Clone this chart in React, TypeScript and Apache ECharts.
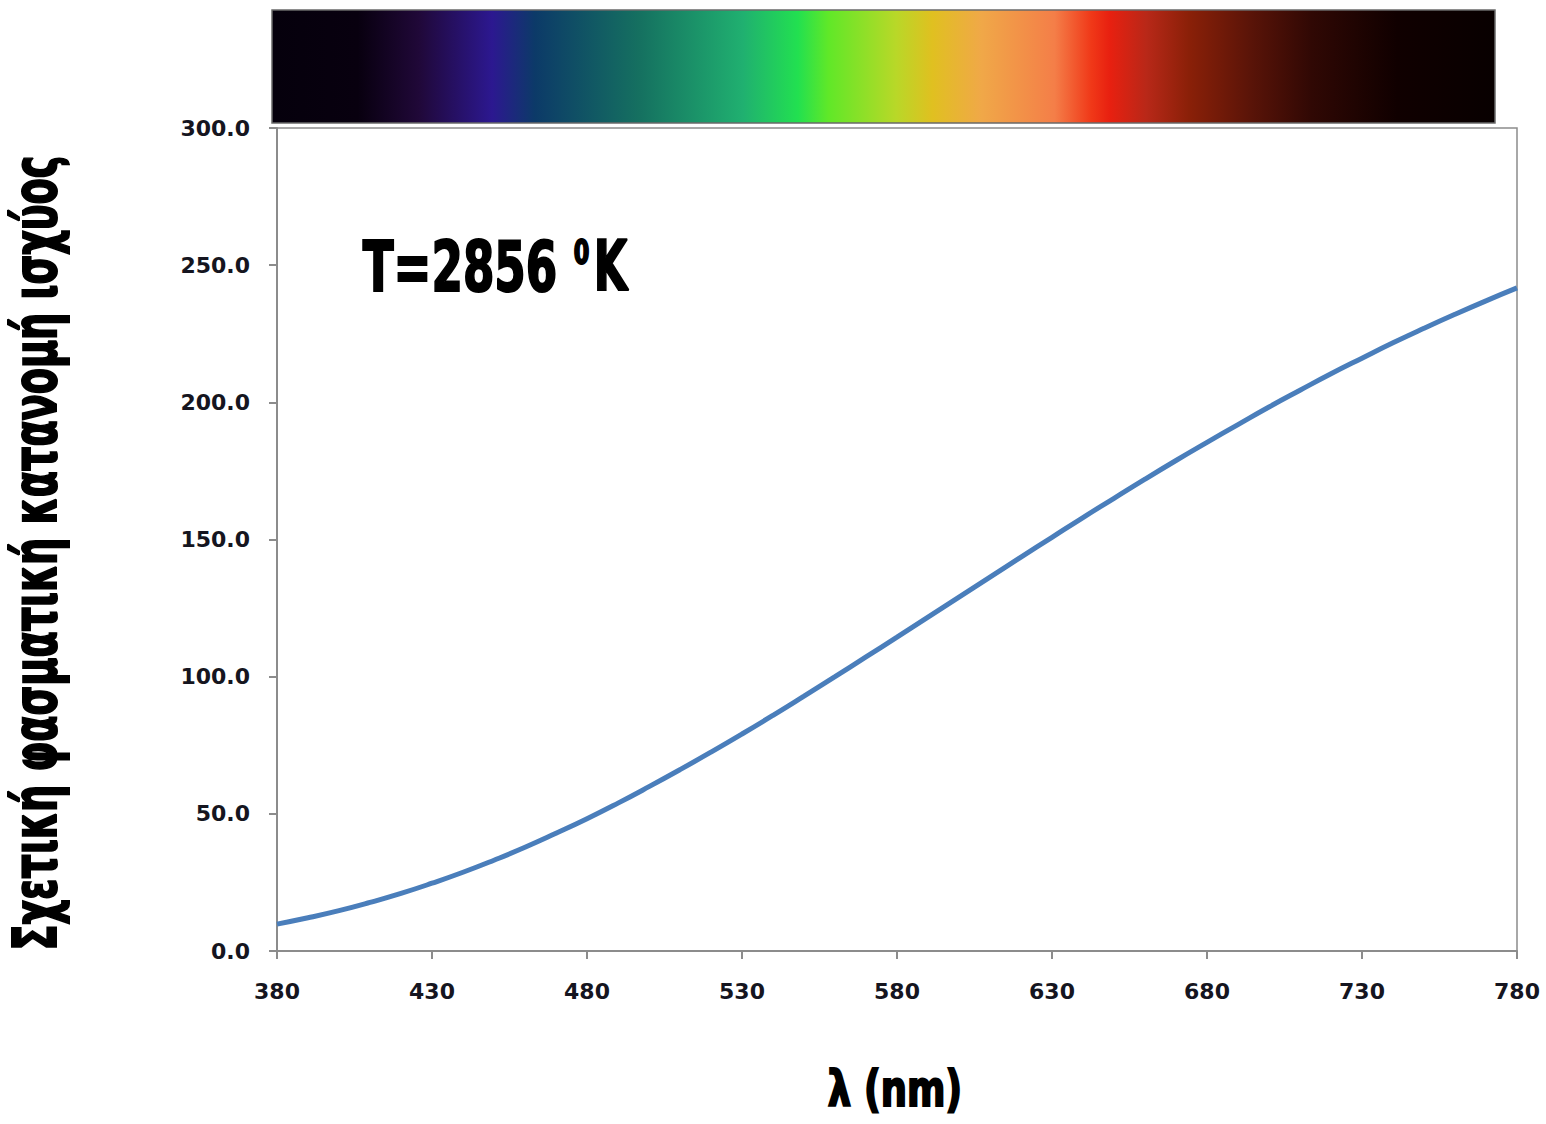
import React, { useEffect, useRef } from "react";
import * as echarts from "echarts";

const wavelengths: string[] = [
  "380", "390", "400", "410", "420", "430", "440", "450", "460", "470",
  "480", "490", "500", "510", "520", "530", "540", "550", "560", "570",
  "580", "590", "600", "610", "620", "630", "640", "650", "660", "670",
  "680", "690", "700", "710", "720", "730", "740", "750", "760", "770", "780",
];

const relativePower: number[] = [
  9.8, 12.1, 14.7, 17.7, 21.0, 24.7, 28.7, 33.1, 37.8, 42.9,
  48.2, 53.9, 59.9, 66.1, 72.5, 79.1, 85.9, 92.9, 100.0, 107.2,
  114.4, 121.7, 129.0, 136.3, 143.6, 150.8, 158.0, 165.0, 172.0, 178.8,
  185.4, 191.9, 198.3, 204.4, 210.4, 216.1, 221.7, 227.0, 232.1, 237.0, 241.7,
];

const yTicks = { min: 0, max: 300, interval: 50 };

const spectrumStops: [number, string][] = [
  [0, "#05000c"], [0.07, "#08000f"], [0.12, "#200838"], [0.18, "#2c1890"],
  [0.215, "#0c3a68"], [0.3, "#157060"], [0.385, "#20b070"], [0.43, "#22e050"],
  [0.455, "#60e828"], [0.51, "#b8d828"], [0.54, "#e0c020"], [0.58, "#f0a848"],
  [0.64, "#f47e48"], [0.67, "#f03818"], [0.685, "#e82010"], [0.715, "#b82818"],
  [0.75, "#8a2008"], [0.8, "#5a1408"], [0.85, "#300804"], [0.92, "#100000"],
  [1, "#080000"],
];

const yTitle = "Σχετική φασματική κατανομή ισχύος";
const xTitle = "λ (nm)";
const tempMain = "T=2856";
const tempSup = "0";
const tempUnit = "K";

const NARROW = "'Liberation Sans Narrow', 'DejaVu Sans Condensed', 'Noto Sans', sans-serif";

function measure(text: string, size: number): number {
  const c = document.createElement("canvas").getContext("2d");
  if (!c) return text.length * size * 0.45;
  c.font = `bold ${size}px ${NARROW}`;
  return c.measureText(text).width;
}

function fitText(text: string, size: number, target: number, extra: any) {
  const w = measure(text, size) + 2;
  return {
    type: "text",
    scaleX: target / w,
    ...extra,
    style: {
      text,
      fontSize: size,
      fontWeight: "bold",
      fontFamily: NARROW,
      fill: "#000",
      stroke: "#000",
      lineWidth: 2,
      align: "center",
      verticalAlign: "middle",
    },
  };
}

export default function App() {
  const ref = useRef<HTMLDivElement>(null);

  useEffect(() => {
    if (!ref.current) return;
    const chart = echarts.init(ref.current, null, { renderer: "svg" });
    const axisGray = "#8c8c8c";
    const labelFont = { fontFamily: "'DejaVu Sans', Verdana, sans-serif", fontWeight: "bold" as const, fontSize: 22, color: "#151520" };

    chart.setOption({
      animation: false,
      backgroundColor: "#ffffff",
      grid: {
        left: 277,
        right: 29,
        top: 128,
        bottom: 173,
        show: true,
        borderColor: axisGray,
        borderWidth: 1.5,
        containLabel: false,
      },
      xAxis: {
        type: "category",
        data: wavelengths,
        boundaryGap: false,
        axisLine: { lineStyle: { color: axisGray, width: 2 } },
        axisTick: { show: true, interval: 4, length: 8, lineStyle: { color: axisGray, width: 2 } },
        axisLabel: { interval: 4, margin: 29, ...labelFont },
        splitLine: { show: false },
      },
      yAxis: {
        type: "value",
        min: yTicks.min,
        max: yTicks.max,
        interval: yTicks.interval,
        axisLine: { show: true, lineStyle: { color: axisGray, width: 2 } },
        axisTick: { show: true, length: 8, lineStyle: { color: axisGray, width: 2 } },
        axisLabel: { margin: 27, formatter: (v: number) => v.toFixed(1), ...labelFont },
        splitLine: { show: false },
      },
      series: [
        {
          type: "line",
          data: relativePower,
          smooth: true,
          showSymbol: false,
          lineStyle: { color: "#4a7ebb", width: 5 },
        },
      ],
      graphic: [
        {
          type: "rect",
          shape: { x: 272, y: 10, width: 1223, height: 113 },
          style: {
            fill: new echarts.graphic.LinearGradient(
              0, 0, 1, 0,
              spectrumStops.map(([offset, color]) => ({ offset, color }))
            ),
            stroke: "#6a6a6a",
            lineWidth: 1.5,
          },
        },
        fitText(tempMain, 70, 196, { x: 460, y: 266 }),
        fitText(tempSup, 34, 17, { x: 581.5, y: 252 }),
        fitText(tempUnit, 70, 35, { x: 610.5, y: 266 }),
        fitText(xTitle, 50, 136, { x: 895, y: 1089 }),
        fitText(yTitle, 60, 797, { x: 35, y: 553, rotation: Math.PI / 2 }),
      ],
    });

    return () => chart.dispose();
  }, []);

  return (
    <div
      ref={ref}
      style={{ position: "absolute", left: 0, top: 0, width: 1546, height: 1124, background: "#fff" }}
    />
  );
}
